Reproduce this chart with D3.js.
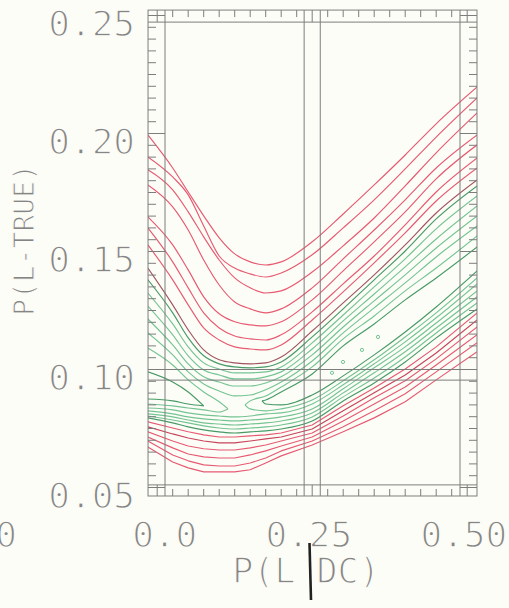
<!DOCTYPE html>
<html><head><meta charset="utf-8">
<script src="https://cdn.jsdelivr.net/npm/d3@7"></script>
<style>html,body{margin:0;padding:0;background:#fdfdf7;}svg{display:block;}</style>
</head><body>
<svg id="c" width="509" height="608"></svg>
<script>
// ---------- data ----------
const xGrid = [-0.015, 0.025, 0.05, 0.075, 0.10, 0.125, 0.15, 0.175, 0.20, 0.25, 0.30, 0.35, 0.40, 0.45, 0.516];

// upper red contour branches (top to bottom)
const red1 = [0.1994,0.1854,0.1752,0.1651,0.1558,0.1490,0.1456,0.1443,0.1456,0.1541,0.1659,0.1782,0.1909,0.2041,0.2197];
const red2 = [0.1901,0.1816,0.1740,0.1608,0.1481,0.1430,0.1405,0.1392,0.1409,0.1486,0.1600,0.1719,0.1850,0.1985,0.2151];
const red3 = [0.1846,0.1761,0.1668,0.1562,0.1464,0.1388,0.1346,0.1324,0.1333,0.1413,0.1524,0.1642,0.1778,0.1918,0.2087];
const red4 = [0.1782,0.1689,0.1591,0.1464,0.1358,0.1286,0.1257,0.1240,0.1257,0.1346,0.1469,0.1591,0.1719,0.1854,0.1994];
const red5 = [0.1647,0.1528,0.1422,0.1308,0.1236,0.1202,0.1189,0.1185,0.1202,0.1295,0.1418,0.1541,0.1668,0.1808,0.1952];
const red6 = [0.1600,0.1456,0.1346,0.1240,0.1176,0.1142,0.1130,0.1125,0.1147,0.1244,0.1363,0.1481,0.1613,0.1752,0.1896];
const red7 = [0.1528,0.1380,0.1274,0.1176,0.1125,0.1096,0.1087,0.1083,0.1104,0.1210,0.1329,0.1452,0.1579,0.1714,0.1854];
const darkUpper = [0.1430,0.1274,0.1168,0.1083,0.1041,0.1028,0.1024,0.1028,0.1053,0.1163,0.1282,0.1401,0.1528,0.1663,0.1803];

// green contour branches, upper side
const green1Up = [0.1380,0.1240,0.1134,0.1058,0.1024,0.1011,0.1007,0.1011,0.1032,0.1138,0.1257,0.1380,0.1502,0.1638,0.1778];
const green2Up = [0.1324,0.1193,0.1096,0.1028,0.1002,0.0986,0.0986,0.0990,0.1011,0.1113,0.1231,0.1350,0.1469,0.1596,0.1735];
const green3Up = [0.1269,0.1147,0.1058,0.0998,0.0977,0.0960,0.0960,0.0969,0.0990,0.1087,0.1206,0.1320,0.1435,0.1553,0.1693];
const green4Up = [0.1214,0.1104,0.1024,0.0969,0.0947,0.0930,0.0930,0.0943,0.0969,0.1062,0.1180,0.1291,0.1401,0.1515,0.1651];
const green5Up = [0.1155,0.1062,0.0990,0.0939,0.0909,0.0888,0.0892,0.0914,0.0947,0.1036,0.1155,0.1261,0.1367,0.1477,0.1608];
// green contour branches, lower side
const green1Low = [0.0795,0.0774,0.0757,0.0744,0.0736,0.0731,0.0736,0.0740,0.0748,0.0782,0.0867,0.0943,0.1032,0.1134,0.1257];
const green2Low = [0.0803,0.0786,0.0774,0.0761,0.0752,0.0748,0.0752,0.0757,0.0765,0.0799,0.0884,0.0964,0.1053,0.1155,0.1282];
const green3Low = [0.0812,0.0799,0.0786,0.0774,0.0769,0.0765,0.0769,0.0774,0.0782,0.0816,0.0901,0.0986,0.1075,0.1176,0.1308];
const green4Low = [0.0825,0.0812,0.0799,0.0791,0.0786,0.0782,0.0786,0.0791,0.0799,0.0833,0.0918,0.1007,0.1096,0.1197,0.1333];
const green5Low = [0.0837,0.0829,0.0816,0.0808,0.0803,0.0799,0.0803,0.0812,0.0816,0.0854,0.0935,0.1024,0.1117,0.1219,0.1363];

// inner green lobes around the saddle: [P(L|DC), P(L-TRUE)]
const green6LeftUp  = [[-0.015,0.1091],[0.025,0.1019],[0.05,0.0956],[0.075,0.0905],[0.10,0.0863],[0.1142,0.0833]];
const green6LeftLow = [[-0.015,0.0854],[0.025,0.0846],[0.05,0.0837],[0.075,0.0829],[0.10,0.0820],[0.1142,0.0833]];
const green7LeftUp  = [[-0.015,0.0990],[0.025,0.0947],[0.05,0.0905],[0.075,0.0846]];
const green7LeftLow = [[-0.015,0.0875],[0.025,0.0867],[0.05,0.0854],[0.075,0.0846]];
const green6RightUp  = [[0.1416,0.0850],[0.15,0.0867],[0.175,0.0888],[0.20,0.0926],[0.25,0.1011],[0.30,0.1130],[0.35,0.1227],[0.40,0.1333],[0.45,0.1430],[0.516,0.1566]];
const green6RightLow = [[0.1416,0.0850],[0.15,0.0833],[0.175,0.0825],[0.20,0.0833],[0.25,0.0871],[0.30,0.0952],[0.35,0.1041],[0.40,0.1138],[0.45,0.1240],[0.516,0.1388]];
const green7RightUp  = [[0.1690,0.0867],[0.175,0.0871],[0.20,0.0905],[0.25,0.0981],[0.30,0.1100],[0.35,0.1193],[0.40,0.1295],[0.45,0.1388],[0.516,0.1519]];
const green7RightLow = [[0.1690,0.0867],[0.175,0.0854],[0.20,0.0850],[0.25,0.0892],[0.30,0.0973],[0.35,0.1062],[0.40,0.1159],[0.45,0.1265],[0.516,0.1418]];
const greenIslands = [[0.282,0.0986],[0.2997,0.1032],[0.3303,0.1083],[0.3561,0.1138]];

// lower red contour branches (top to bottom)
const lowRed1 = [0.0778,0.0752,0.0736,0.0723,0.0714,0.0714,0.0719,0.0723,0.0731,0.0765,0.0846,0.0922,0.1002,0.1096,0.1240];
const lowRed2 = [0.0757,0.0727,0.0710,0.0697,0.0689,0.0689,0.0697,0.0706,0.0714,0.0748,0.0825,0.0901,0.0977,0.1070,0.1210];
const lowRed3 = [0.0736,0.0697,0.0676,0.0664,0.0659,0.0659,0.0668,0.0680,0.0697,0.0731,0.0803,0.0880,0.0952,0.1045,0.1180];
const lowRed4 = [0.0714,0.0668,0.0642,0.0630,0.0625,0.0625,0.0638,0.0655,0.0676,0.0714,0.0782,0.0854,0.0926,0.1019,0.1147];
const lowRed5 = [0.0697,0.0638,0.0613,0.0596,0.0591,0.0591,0.0604,0.0625,0.0655,0.0697,0.0757,0.0825,0.0897,0.0990,0.1113];
const lowRed6 = [0.0672,0.0608,0.0583,0.0566,0.0566,0.0566,0.0575,0.0604,0.0634,0.0680,0.0736,0.0795,0.0863,0.0956,0.1075];

// axes
const xTicks = [0, 0.25, 0.5];
const xTickLabels = ["0.0", "0.25", "0.50"];
const yTicks = [0.05, 0.10, 0.15, 0.20, 0.25];
const yTickLabels = ["0.05", "0.10", "0.15", "0.20", "0.25"];
const xTitle = ["P(L", "|", "DC)"];
const yTitle = "P(L-TRUE)";
const prevPanelLabel = "0.50";
// frame (data units)
const outerX = [-0.0148, 0.5158], outerY = [0.0464, 0.2523];
const innerX = [0.0126, 0.4884], innerY = [0.0511, 0.2472];
const markX = [0.237, 0.263], markY = [0.0955, 0.10];

// ---------- drawing ----------
const BG = '#fdfdf7';
const svg = d3.select('#c');
const x = d3.scaleLinear().domain([0, 0.5]).range([157.2, 467.2]);
const y = d3.scaleLinear().domain([0.05, 0.25]).range([487.5, 15.5]);

const RED = '#e65a72', DARKRED = '#c8445c', BROWN = '#a05560';
const GREEN = '#74c493', DKGREEN = '#479a66';
const FRAME = '#7d7d7d', TEXT = '#858585';

svg.append('defs').append('clipPath').attr('id','clip').append('rect')
  .attr('x', x(outerX[0])).attr('y', y(outerY[1]))
  .attr('width', x(outerX[1]) - x(outerX[0])).attr('height', y(outerY[0]) - y(outerY[1]));

const plot = svg.append('g').attr('clip-path','url(#clip)');
const gridLine = (curve) => d3.line().x((d,i)=>x(xGrid[i])).y(d=>y(d)).curve(curve);
const pairLine = d3.line().x(d=>x(d[0])).y(d=>y(d[1])).curve(d3.curveMonotoneX);

function drawGrid(arr, color, curve, w) {
  plot.append('path').attr('d', gridLine(curve)(arr)).attr('fill','none')
    .attr('stroke', color).attr('stroke-width', w || 1.15).attr('stroke-linejoin','round');
}
function drawPairs(arr, color, w) {
  plot.append('path').attr('d', pairLine(arr)).attr('fill','none')
    .attr('stroke', color).attr('stroke-width', w || 1.15).attr('stroke-linejoin','round');
}

[red1, red2, red3, red4, red5, red6, red7].forEach(a => drawGrid(a, RED, d3.curveMonotoneX));
drawGrid(darkUpper, BROWN, d3.curveMonotoneX);
[green2Up, green3Up, green4Up, green5Up].forEach(a => drawGrid(a, GREEN, d3.curveMonotoneX));
drawGrid(green1Up, DKGREEN, d3.curveMonotoneX);
[green2Low, green3Low, green4Low, green5Low].forEach(a => drawGrid(a, GREEN, d3.curveMonotoneX));
drawGrid(green1Low, DKGREEN, d3.curveMonotoneX);
[green6LeftUp, green6LeftLow, green6RightUp, green6RightLow].forEach(a => drawPairs(a, GREEN));
[green7LeftUp, green7LeftLow, green7RightUp, green7RightLow].forEach(a => drawPairs(a, DKGREEN));
plot.selectAll('circle.isl').data(greenIslands).enter().append('circle')
  .attr('cx', d=>x(d[0])).attr('cy', d=>y(d[1])).attr('r', 1.6)
  .attr('fill','none').attr('stroke', GREEN).attr('stroke-width', 1);
[lowRed1, lowRed3, lowRed4, lowRed5, lowRed6].forEach(a => drawGrid(a, RED, d3.curveLinear));
drawGrid(lowRed2, DARKRED, d3.curveLinear);

// frame
const fr = svg.append('g').attr('stroke', FRAME).attr('stroke-width', 1).attr('fill','none');
const X0 = x(outerX[0]), X1 = x(outerX[1]), Y0 = y(outerY[1]), Y1 = y(outerY[0]);
fr.append('rect').attr('x', X0).attr('y', Y0).attr('width', X1 - X0).attr('height', Y1 - Y0);
innerX.concat(markX).forEach(v => fr.append('line').attr('x1', x(v)).attr('x2', x(v)).attr('y1', Y0).attr('y2', Y1));
innerY.concat(markY).forEach(v => fr.append('line').attr('y1', y(v)).attr('y2', y(v)).attr('x1', X0).attr('x2', X1));

// x ticks (top & bottom)
const xMinor = d3.range(1, 20).map(k => k * 0.025).filter(v => Math.abs(v - 0.25) > 1e-6);
xMinor.forEach(v => {
  fr.append('line').attr('x1', x(v)).attr('x2', x(v)).attr('y1', Y0).attr('y2', Y0 + 7);
  fr.append('line').attr('x1', x(v)).attr('x2', x(v)).attr('y1', Y1).attr('y2', Y1 - 7);
});
xTicks.forEach(v => {
  fr.append('line').attr('x1', x(v)).attr('x2', x(v)).attr('y1', Y0).attr('y2', y(innerY[1]));
  fr.append('line').attr('x1', x(v)).attr('x2', x(v)).attr('y1', Y1).attr('y2', y(innerY[0]));
});
// y ticks (left & right)
const yMinor = d3.range(0, 41).map(k => 0.05 + k * 0.005);
yMinor.forEach((v, k) => {
  const major = k % 10 === 0;
  fr.append('line').attr('y1', y(v)).attr('y2', y(v)).attr('x1', X0).attr('x2', major ? x(innerX[0]) : X0 + 8);
  fr.append('line').attr('y1', y(v)).attr('y2', y(v)).attr('x1', X1).attr('x2', major ? x(innerX[1]) : X1 - 8);
});

// labels (thin plotter-like strokes: glyphs eroded with a background-coloured stroke)
const font = "'DejaVu Sans Mono', 'Liberation Mono', monospace";
const lab = svg.append('g').attr('fill', TEXT).attr('font-family', font)
  .attr('stroke', BG).attr('stroke-width', 1.4).attr('stroke-linejoin', 'round');
yTicks.forEach((v, i) => {
  lab.append('text').attr('x', 135).attr('y', y(v) + 7.5).attr('dy', '0.36em')
    .attr('text-anchor', 'end').attr('font-size', 36).text(yTickLabels[i]);
});
xTicks.forEach((v, i) => {
  lab.append('text').attr('x', x(v) + 40).attr('y', 534).attr('dy', '0.36em')
    .attr('text-anchor', 'end').attr('font-size', 36).text(xTickLabels[i]);
});
lab.append('text').attr('x', 17).attr('y', 534).attr('dy', '0.36em')
  .attr('text-anchor', 'end').attr('font-size', 36).text(prevPanelLabel);

const xt = lab.append('text').attr('x', 306).attr('y', 570).attr('dy', '0.36em')
  .attr('text-anchor', 'middle').attr('font-size', 35);
xt.append('tspan').text(xTitle[0]);
xt.append('tspan').attr('fill-opacity', 0).attr('stroke-opacity', 0).text(xTitle[1]);
xt.append('tspan').text(xTitle[2]);
svg.append('line').attr('x1', 309.5).attr('x2', 311).attr('y1', 543).attr('y2', 600)
  .attr('stroke', '#222').attr('stroke-width', 2.6);

lab.append('text').attr('transform', 'translate(24,240) rotate(-90)').attr('dy', '0.36em')
  .attr('text-anchor', 'middle').attr('font-size', 28).attr('stroke-width', 1.1).text(yTitle);
</script>
</body></html>
